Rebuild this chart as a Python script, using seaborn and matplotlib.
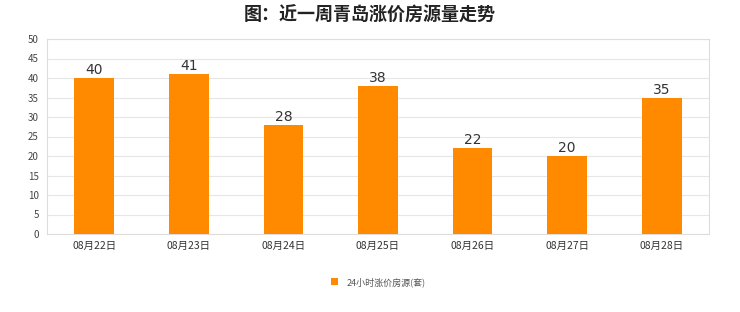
import matplotlib
matplotlib.use("Agg")
import matplotlib.pyplot as plt
import seaborn as sns
import pandas as pd

categories = ["08月22日", "08月23日", "08月24日", "08月25日", "08月26日", "08月27日", "08月28日"]
values = [40, 41, 28, 38, 22, 20, 35]
series_name = "24小时涨价房源(套)"
title = "图：近一周青岛涨价房源量走势"
yticks = [0, 5, 10, 15, 20, 25, 30, 35, 40, 45, 50]

sns.set_theme(style="white")
plt.rcParams['font.family'] = ['Noto Sans CJK SC', 'DejaVu Sans']

df = pd.DataFrame({"date": categories, "value": values})

fig = plt.figure(figsize=(7.4, 3.12), dpi=100, facecolor="#ffffff")
ax = fig.add_axes([47/740, 1-234/312, (709-47)/740, (234-39)/312])
ax.set_facecolor("#ffffff")

color = "#FF8A00"
sns.barplot(data=df, x="date", y="value", color=color, width=0.42, ax=ax,
            saturation=1, label=series_name, zorder=3, linewidth=0)

ax.set_ylim(0, 50)
ax.set_yticks(yticks)
ax.set_yticklabels([str(t) for t in yticks], fontsize=7, color="#444444")
ax.set_xlim(-0.5, len(categories) - 0.5)
ax.tick_params(axis='x', labelsize=7.5, colors="#333333", length=0, pad=5)
ax.tick_params(axis='y', length=0, pad=6)
ax.set_xlabel("")
ax.set_ylabel("")
ax.grid(axis='y', color="#e6e6e6", linewidth=0.8, zorder=0)
for s in ax.spines.values():
    s.set_color("#dddddd")
    s.set_linewidth(0.8)

for i, v in enumerate(values):
    ax.text(i, v + 0.2, str(v), ha='center', va='bottom', fontsize=10, color="#333333",
            family=['DejaVu Sans'])

fig.text(0.5, 1 - 15/312, title, ha='center', va='center', fontsize=13,
         fontweight='bold', color="#222222")

leg = ax.legend(loc='center', bbox_to_anchor=(0.5, (234 - 282) / (234 - 39)),
                frameon=False, fontsize=6.5, handlelength=0.8, handleheight=0.8,
                handletextpad=0.9)
for t in leg.get_texts():
    t.set_color("#555555")

fig.savefig("out.png", dpi=100, facecolor=fig.get_facecolor())
